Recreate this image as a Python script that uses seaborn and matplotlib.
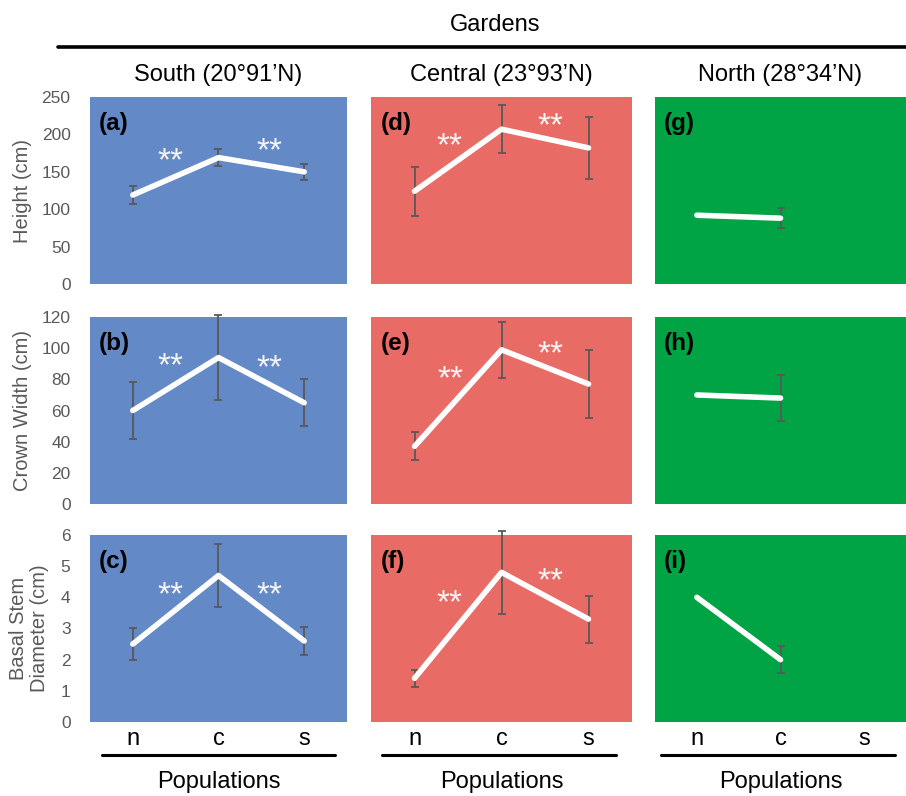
import numpy as np
import pandas as pd
import seaborn as sns
import matplotlib.pyplot as plt
from matplotlib.lines import Line2D

sns.set_style("white")
plt.rcParams['font.family'] = ['Liberation Sans', 'DejaVu Sans']
plt.rcParams['text.color'] = 'black'

# Data (mean and error bar half-length)
populations = ['n', 'c', 's']
gardens = ['South (20°91’N)', 'Central (23°93’N)', 'North (28°34’N)']
traits = ['Height (cm)', 'Crown Width (cm)', 'Basal Stem\nDiameter (cm)']
panel_letters = ['(a)', '(d)', '(g)', '(b)', '(e)', '(h)', '(c)', '(f)', '(i)']

south_height = [119, 169, 150]
south_height_err = [12, 11, 11]
central_height = [124, 207, 182]
central_height_err = [33, 32, 41]
north_height = [92, 88, np.nan]
north_height_err = [np.nan, 13, np.nan]

south_crown = [60, 94, 65]
south_crown_err = [18, 27, 15]
central_crown = [37, 99, 77]
central_crown_err = [9, 18, 22]
north_crown = [70, 68, np.nan]
north_crown_err = [np.nan, 15, np.nan]

south_stem = [2.5, 4.7, 2.6]
south_stem_err = [0.5, 1.0, 0.45]
central_stem = [1.4, 4.8, 3.3]
central_stem_err = [0.27, 1.33, 0.75]
north_stem = [4.0, 2.0, np.nan]
north_stem_err = [np.nan, 0.44, np.nan]

y_max = [250, 120, 6]
y_step = [50, 20, 1]

means = [[south_height, central_height, north_height],
         [south_crown, central_crown, north_crown],
         [south_stem, central_stem, north_stem]]
errs = [[south_height_err, central_height_err, north_height_err],
        [south_crown_err, central_crown_err, north_crown_err],
        [south_stem_err, central_stem_err, north_stem_err]]

# "**" significance marks (axes fraction), per row / column
stars = [[[(0.314, 0.656), (0.698, 0.709)], [(0.301, 0.732), (0.688, 0.839)], []],
         [[(0.315, 0.732), (0.697, 0.724)], [(0.303, 0.662), (0.688, 0.796)], []],
         [[(0.315, 0.675), (0.697, 0.675)], [(0.299, 0.633), (0.688, 0.748)], []]]

garden_colors = ['#6389C6', '#E96B65', '#00A444']
grey = '#595959'

fig = plt.figure(figsize=(9.06, 7.96), dpi=100)
col_left = [0.0993, 0.4095, 0.7230]
col_width = [0.2837, 0.2881, 0.2770]
row_bottom = [0.6432, 0.3668, 0.0930]
row_height = 0.2349
ylabel_x = [-0.225, -0.225, -0.16]
underline = [(0.047, 0.953), (0.042, 0.94), (0.024, 0.956)]

pos = np.arange(len(populations))
for r in range(3):
    for c in range(3):
        ax = fig.add_axes([col_left[c], row_bottom[r], col_width[c], row_height])
        ax.set_facecolor(garden_colors[c])
        for s in ax.spines.values():
            s.set_visible(False)

        df = pd.DataFrame({'pos': pos, 'mean': means[r][c], 'err': errs[r][c]})
        eb = df.dropna(subset=['err'])
        bars = ax.errorbar(eb['pos'], eb['mean'], yerr=eb['err'], fmt='none',
                           ecolor=grey, elinewidth=1.3, capsize=3.2, capthick=1.3,
                           zorder=2)
        for art in bars.get_children():
            art.set_clip_on(False)
        sns.lineplot(data=df.dropna(subset=['mean']), x='pos', y='mean', ax=ax,
                     color='white', lw=4, errorbar=None, sort=False, zorder=3,
                     solid_capstyle='round')

        ax.set_xlim(-0.5, 2.5)
        ax.set_ylim(0, y_max[r])
        ax.set_yticks(np.arange(0, y_max[r] + y_step[r] / 2, y_step[r]))
        ax.tick_params(length=0)
        ax.set_xlabel('')
        ax.set_ylabel('')
        if c == 0:
            ax.tick_params(axis='y', labelsize=12.5, labelcolor=grey, pad=14)
            ax.set_ylabel(traits[r], fontsize=14.5, color=grey, linespacing=1.15)
            ax.yaxis.set_label_coords(ylabel_x[r], 0.5)
        else:
            ax.set_yticklabels([])
        if r == 2:
            ax.set_xticks(pos, populations)
            ax.tick_params(axis='x', labelsize=17, labelcolor='black', pad=4)
            x0, x1 = underline[c]
            ax.add_line(Line2D([x0, x1], [-0.178, -0.178], transform=ax.transAxes,
                               color='black', lw=2.2, clip_on=False))
            ax.text(0.5, -0.32, 'Populations', transform=ax.transAxes,
                    ha='center', va='center', fontsize=17, color='black')
        else:
            ax.set_xticks(pos, [])
        if r == 0:
            ax.text(0.5, 1.118, gardens[c], transform=ax.transAxes,
                    ha='center', va='center', fontsize=17, color='black')

        ax.text(0.036, 0.86, panel_letters[r * 3 + c], transform=ax.transAxes,
                ha='left', va='center', fontsize=17.5, fontweight='bold',
                color='black')
        for (sx, sy) in stars[r][c]:
            ax.text(sx, sy, '**', transform=ax.transAxes, ha='center', va='center',
                    fontsize=24, color='#f4f4f4')

fig.text(0.547, 0.969, 'Gardens', ha='center', va='center', fontsize=17,
         color='black')
fig.add_artist(Line2D([0.064, 1.0], [0.941, 0.941], transform=fig.transFigure,
                      color='black', lw=2.6))

fig.savefig('out.png', dpi=100)
